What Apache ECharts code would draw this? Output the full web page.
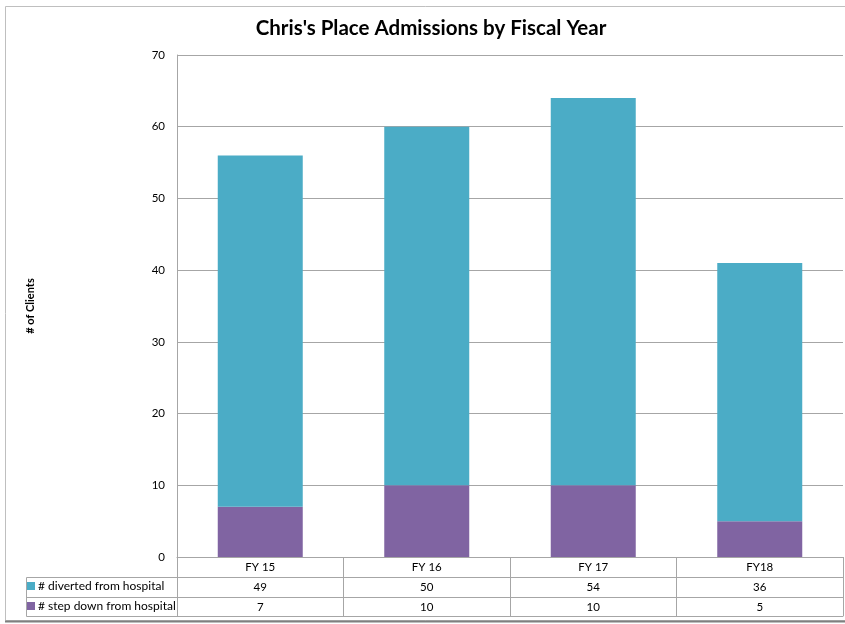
<!DOCTYPE html>
<html>
<head>
<meta charset="utf-8">
<script src="https://cdn.jsdelivr.net/npm/echarts@6/dist/echarts.min.js"></script>
<style>
html,body{margin:0;padding:0;background:#fff;}
#c{width:845px;height:624px;}
</style>
</head>
<body>
<div id="c"></div>
<script>
const categories = ['FY 15', 'FY 16', 'FY 17', 'FY18'];
const divertedName = '# diverted from hospital';
const stepDownName = '# step down from hospital';
const diverted = [49, 50, 54, 36];
const stepDown = [7, 10, 10, 5];
const yTicks = { min: 0, max: 70, interval: 10 };

const FONT = 'Lato, "Open Sans", sans-serif';
const GRID_LEFT = 177, GRID_RIGHT = 2, GRID_TOP = 55, GRID_BOTTOM = 67;
const LINE = '#a6a6a6';

const chart = echarts.init(document.getElementById('c'), null, { renderer: 'canvas' });

function tableAxis(data, offset, showLabels, tickLen) {
  return {
    type: 'category',
    data: data,
    position: 'bottom',
    offset: offset,
    gridIndex: 0,
    axisLine: { show: true, lineStyle: { color: LINE, width: 1 } },
    axisTick: { show: tickLen > 0, interval: 0, length: tickLen, inside: false, lineStyle: { color: LINE, width: 1 } },
    axisLabel: { show: showLabels, interval: 0, color: '#000', fontFamily: FONT, fontSize: 11.5, margin: 4 },
    splitLine: { show: false }
  };
}

function rowLegend(name, top) {
  return {
    orient: 'horizontal',
    left: 27, top: top,
    padding: 0,
    itemWidth: 8, itemHeight: 8,
    icon: 'rect',
    data: [name],
    textStyle: { fontFamily: FONT, fontSize: 12, color: '#000', padding: [0, 0, 0, -2] },
    selectedMode: false
  };
}

const option = {
  backgroundColor: '#fff',
  animation: false,
  title: {
    text: "Chris's Place Admissions by Fiscal Year",
    left: 426, textAlign: 'center', top: 13,
    textStyle: { fontFamily: FONT, fontSize: 20.5, fontWeight: 'bold', color: '#000' }
  },
  legend: [rowLegend(divertedName, 580), rowLegend(stepDownName, 600)],
  grid: { left: GRID_LEFT, right: GRID_RIGHT, top: GRID_TOP, bottom: GRID_BOTTOM, containLabel: false },
  xAxis: [
    tableAxis(categories, 0, true, 59),
    tableAxis(diverted.map(String), 20, true, 0),
    tableAxis(stepDown.map(String), 40, true, 0),
    tableAxis(categories.map(() => ''), 59, false, 0)
  ],
  yAxis: {
    type: 'value',
    min: yTicks.min, max: yTicks.max, interval: yTicks.interval,
    name: '# of Clients',
    nameLocation: 'middle',
    nameGap: 141,
    nameRotate: 90,
    nameTextStyle: { fontFamily: FONT, fontSize: 11, fontWeight: 'bold', color: '#000' },
    axisLine: { show: true, lineStyle: { color: LINE } },
    axisTick: { show: false },
    axisLabel: { color: '#000', fontFamily: FONT, fontSize: 11.5, margin: 12 },
    splitLine: { show: true, lineStyle: { color: LINE, width: 1 } }
  },
  series: [
    {
      name: stepDownName, type: 'bar', stack: 'a', xAxisIndex: 0,
      data: stepDown, barWidth: 85,
      itemStyle: { color: '#8064a2' }
    },
    {
      name: divertedName, type: 'bar', stack: 'a', xAxisIndex: 0,
      data: diverted, barWidth: 85,
      itemStyle: { color: '#4bacc6' }
    }
  ],
  graphic: [
    { type: 'rect', shape: { x: 5.5, y: 6.5, width: 845, height: 614 }, style: { fill: 'none', stroke: '#bfbfbf', lineWidth: 1 }, z: -1 },
    { type: 'line', shape: { x1: 5, y1: 621.5, x2: 845, y2: 621.5 }, style: { stroke: '#7f7f7f', lineWidth: 2 } },
    { type: 'line', shape: { x1: 26.5, y1: 577.5, x2: 177, y2: 577.5 }, style: { stroke: LINE, lineWidth: 1 } },
    { type: 'line', shape: { x1: 26.5, y1: 597.5, x2: 177, y2: 597.5 }, style: { stroke: LINE, lineWidth: 1 } },
    { type: 'line', shape: { x1: 26.5, y1: 616.5, x2: 177, y2: 616.5 }, style: { stroke: LINE, lineWidth: 1 } },
    { type: 'line', shape: { x1: 26.5, y1: 577.5, x2: 26.5, y2: 616.5 }, style: { stroke: LINE, lineWidth: 1 } }
  ]
};
chart.setOption(option);
</script>
</body>
</html>
